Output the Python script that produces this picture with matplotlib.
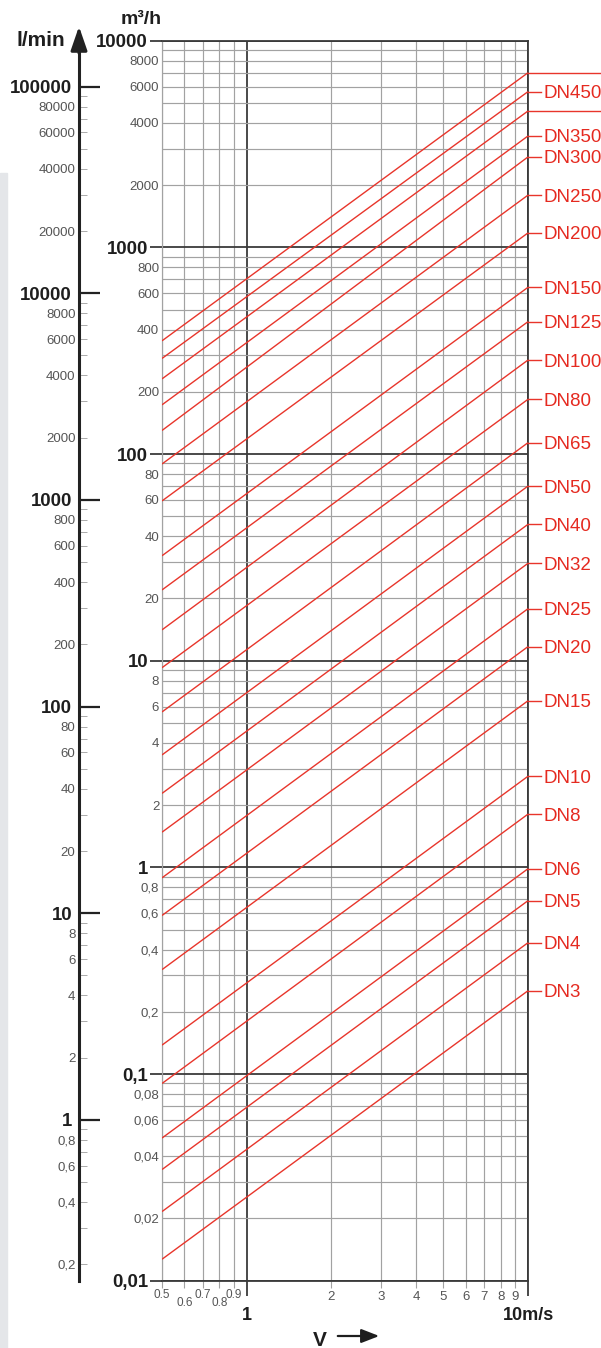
import math
import matplotlib
matplotlib.use("Agg")
import matplotlib.pyplot as plt
from matplotlib.ticker import FixedLocator, FuncFormatter
from matplotlib.patches import Rectangle, FancyArrowPatch

plt.rcParams['font.family'] = ['Liberation Sans', 'DejaVu Sans']

# Pipe sizes and their flow rates (m3/h) at the two ends of the velocity range
dn_names = ['DN500', 'DN450', 'DN400', 'DN350', 'DN300', 'DN250', 'DN200',
            'DN150', 'DN125', 'DN100', 'DN80', 'DN65', 'DN50', 'DN40',
            'DN32', 'DN25', 'DN20', 'DN15', 'DN10', 'DN8', 'DN6', 'DN5',
            'DN4', 'DN3']
q_low = [353, 290, 231, 173, 130, 89.5, 59.3, 32.2, 22.0, 14.1, 9.25, 5.65,
         3.5, 2.28, 1.48, 0.89, 0.585, 0.32, 0.138, 0.090, 0.049, 0.0345,
         0.0216, 0.0127]
q_high = [7000, 5670, 4570, 3460, 2740, 1790, 1175, 641, 437, 285, 184, 113.5,
          70, 45.7, 29.6, 17.85, 11.7, 6.4, 2.76, 1.81, 0.985, 0.69, 0.432,
          0.253]
dn_labelled = [False, True, False, True, True, True, True, True, True, True,
               True, True, True, True, True, True, True, True, True, True,
               True, True, True, True]
v_ends = [0.5, 10]

v_minor = [0.5, 0.6, 0.7, 0.8, 0.9, 2, 3, 4, 5, 6, 7, 8, 9]
v_major = [1, 10]
v_major_labels = ['1', '10m/s']
v_small_labels = ['0.5', '0.6', '0.7', '0.8', '0.9']
v_small_drop = [0, 1, 0, 1, 0]

q_range = [0.01, 10000]
lmin_per_m3h = 1000 / 60.0

RED_LINE = '#e8352b'
RED_TEXT = '#e52a20'
INK = '#1e1e1e'

W, H = 601, 1348
fig = plt.figure(figsize=(W / 100, H / 100), dpi=100)
fig.patch.set_facecolor('white')
fig.patches.append(Rectangle((0, 0), 7 / W, (H - 173) / H,
                             transform=fig.transFigure, color='#e4e6e9',
                             zorder=0))

ax_bottom = (H - 1280.7) / H
ax_height = 1240.0 / H
ax_width = 366.0 / W
ax = fig.add_axes([162 / W, ax_bottom, ax_width, ax_height])
ax.set_xscale('log')
ax.set_yscale('log')
ax.set_xlim(v_ends)
ax.set_ylim(q_range)
ax.set_facecolor('none')


def decade_lists(lo, hi):
    majors, minors = [], []
    e = int(round(math.log10(lo)))
    while 10 ** e <= hi * 1.0001:
        majors.append(10 ** e if e >= 0 else float('%g' % 10 ** e))
        if 10 ** (e + 1) <= hi * 1.0001:
            for k in range(2, 10):
                minors.append(float('%g' % (k * 10 ** e)))
        e += 1
    return majors, minors


def comma(v):
    return ('%g' % v).replace('.', ',')


def first_digit(v):
    e = math.floor(math.log10(v) + 1e-9)
    return int(round(v / 10 ** e))


def minor_label(v, pos=None):
    return comma(v) if first_digit(v) in (2, 4, 6, 8) else ''


q_major, q_minor = decade_lists(*q_range)
ax.yaxis.set_major_locator(FixedLocator(q_major))
ax.yaxis.set_minor_locator(FixedLocator(q_minor))
ax.yaxis.set_major_formatter(FuncFormatter(lambda v, p: comma(v)))
ax.yaxis.set_minor_formatter(FuncFormatter(minor_label))

ax.xaxis.set_major_locator(FixedLocator(v_major))
ax.xaxis.set_minor_locator(FixedLocator(v_minor))
ax.xaxis.set_major_formatter(FuncFormatter(
    lambda v, p: v_major_labels[v_major.index(v)] if v in v_major else ''))
ax.xaxis.set_minor_formatter(FuncFormatter(
    lambda v, p: '%d' % round(v) if v >= 2 else ''))

ax.grid(which='minor', color='#a2a2a2', lw=0.85)
ax.grid(which='major', color='#3a3a3a', lw=1.3)
ax.set_axisbelow(True)
for side in ('top', 'right', 'bottom'):
    ax.spines[side].set_color('#3a3a3a')
    ax.spines[side].set_linewidth(1.3)
ax.spines['left'].set_color('#a2a2a2')
ax.spines['left'].set_linewidth(0.85)

ax.tick_params(axis='y', which='major', direction='out', length=8.5,
               width=1.3, color='#3a3a3a', pad=1.5, labelsize=13.4,
               labelcolor=INK)
ax.tick_params(axis='y', which='minor', length=0, pad=2, labelsize=9.5,
               labelcolor='#555555')
ax.tick_params(axis='x', which='major', direction='out', length=11,
               width=1.3, color='#3a3a3a', pad=8, labelsize=13,
               labelcolor=INK)
ax.tick_params(axis='x', which='minor', direction='out', length=5,
               width=0.8, color='#a2a2a2', pad=2.5, labelsize=9.5,
               labelcolor='#555555')
for lbl in ax.get_yticklabels() + ax.get_xticklabels():
    lbl.set_fontweight('bold')

for val, txt, drop in zip(v_minor[:5], v_small_labels, v_small_drop):
    ax.annotate(txt, xy=(val, 0), xycoords=('data', 'axes fraction'),
                xytext=(0, -6 - 5.5 * drop), textcoords='offset points',
                ha='center', va='top', fontsize=8.5, color='#555555')

# Flow lines for each nominal diameter, labelled at the 10 m/s edge
line_tf = ax.get_yaxis_transform()
tick_end = 1 + 13.0 / 366.0
for name, q0, q1, show in zip(dn_names, q_low, q_high, dn_labelled):
    ax.plot(v_ends, [q0, q1], color=RED_LINE, lw=1.0, zorder=3,
            solid_capstyle='butt')
    if show:
        ax.plot([1, tick_end], [q1, q1], transform=line_tf, color=RED_LINE,
                lw=1.0, clip_on=False, zorder=3)
        ax.annotate(name, xy=(1, q1), xycoords=line_tf,
                    xytext=(11, 0), textcoords='offset points',
                    ha='left', va='center_baseline', fontsize=13.5,
                    color=RED_TEXT, annotation_clip=False)
    else:
        ax.plot([1, 1.3], [q1, q1], transform=line_tf, color=RED_LINE,
                lw=1.0, clip_on=False, zorder=3)

# Secondary scale in litres per minute
ax2 = fig.add_axes([79 / W, ax_bottom, 1 / W, ax_height])
ax2.set_yscale('log')
ax2.set_ylim(q_range[0] * lmin_per_m3h, q_range[1] * lmin_per_m3h)
ax2.patch.set_visible(False)
ax2.xaxis.set_visible(False)
for side in ('top', 'right', 'bottom'):
    ax2.spines[side].set_visible(False)
ax2.spines['left'].set_linewidth(2.2)
ax2.spines['left'].set_color('#222222')
l_major, l_minor = decade_lists(1, 100000)
l_minor = [0.2, 0.3, 0.4, 0.5, 0.6, 0.7, 0.8, 0.9] + l_minor
ax2.yaxis.set_major_locator(FixedLocator(l_major))
ax2.yaxis.set_minor_locator(FixedLocator(l_minor))
ax2.yaxis.set_major_formatter(FuncFormatter(lambda v, p: comma(v)))
ax2.yaxis.set_minor_formatter(FuncFormatter(minor_label))
ax2.tick_params(axis='y', which='major', direction='in', length=15,
                width=1.6, color='#222222', pad=5, labelsize=13.4,
                labelcolor=INK)
ax2.tick_params(axis='y', which='minor', direction='in', length=5.5,
                width=0.7, color='#aaaaaa', pad=2.5, labelsize=9.5,
                labelcolor='#555555')
for lbl in ax2.get_yticklabels():
    lbl.set_fontweight('bold')
ax2.annotate('', xy=(0, 1.0115), xycoords='axes fraction',
             xytext=(0, 0.99), textcoords='axes fraction',
             arrowprops=dict(arrowstyle='-|>,head_length=1.45,head_width=0.5',
                             mutation_scale=10, color='#222222', lw=2.2,
                             shrinkA=0, shrinkB=0))

fig.text(141 / W, 1 - 20 / H, 'm³/h', ha='center', va='center',
         fontsize=14, fontweight='bold', color=INK)
fig.text(41 / W, 1 - 41 / H, 'l/min', ha='center', va='center',
         fontsize=15, fontweight='bold', color=INK)
fig.text(320 / W, 1 - 1340 / H, 'V', ha='center', va='center',
         fontsize=15, fontweight='bold', color=INK)
fig.add_artist(FancyArrowPatch(
    (335 / W, 1 - 1336 / H), (382 / W, 1 - 1336 / H),
    transform=fig.transFigure, arrowstyle='-|>,head_length=0.9,head_width=0.35',
    mutation_scale=12, color=INK, lw=1.6))

fig.savefig('out.png', dpi=100, facecolor='white')
